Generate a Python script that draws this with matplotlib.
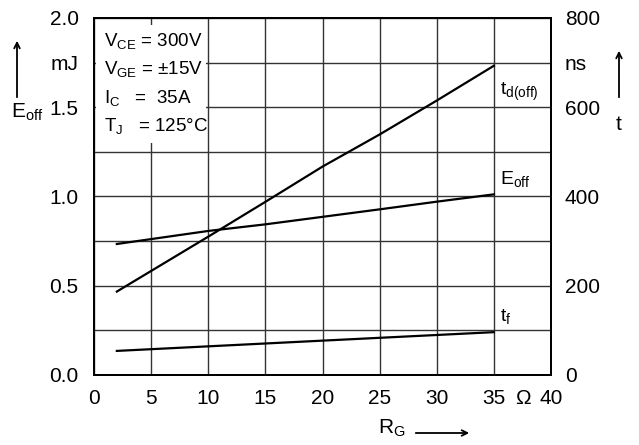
import numpy as np
import matplotlib.pyplot as plt

plt.rcParams["font.family"] = ["Liberation Sans", "DejaVu Sans"]
plt.rcParams["mathtext.default"] = "regular"

# gate resistance (Ohm)
rg = [2, 10, 15, 20, 25, 30, 35]
# turn-off energy (mJ)
e_off = [0.734, 0.807, 0.844, 0.886, 0.928, 0.971, 1.012]
# turn-off delay time (ns)
td_off = [187, 310, 388, 467, 539, 615, 693]
# fall time (ns)
rg_tf = [2, 20, 35]
t_f = [54, 77, 96]

x_ticks = [0, 5, 10, 15, 20, 25, 30, 35, 37.5, 40]
x_labels = ["0", "5", "10", "15", "20", "25", "30", "35", "Ω", "40"]
yl_ticks = [0.0, 0.5, 1.0, 1.5, 1.75, 2.0]
yl_labels = ["0.0", "0.5", "1.0", "1.5", "mJ", "2.0"]
yr_ticks = [0, 200, 400, 600, 700, 800]
yr_labels = ["0", "200", "400", "600", "ns", "800"]

fig = plt.figure(figsize=(6.39, 4.45), dpi=100)
ax = fig.add_axes([94 / 639, 70 / 445, 457 / 639, 357 / 445])
ax2 = ax.twinx()

ax.set_xlim(0, 40)
ax.set_ylim(0, 2.0)
ax2.set_ylim(0, 800)

ax.xaxis.remove_overlapping_locs = False
ax.yaxis.remove_overlapping_locs = False
ax.set_xticks(np.arange(0, 41, 5), minor=True)
ax.set_yticks(np.arange(0, 2.01, 0.25), minor=True)
ax.grid(which="minor", color="#333333", linewidth=1.0)
ax.set_axisbelow(True)

ax.set_xticks(x_ticks)
ax.set_xticklabels(x_labels)
ax.set_yticks(yl_ticks)
ax.set_yticklabels(yl_labels)
ax2.set_yticks(yr_ticks)
ax2.set_yticklabels(yr_labels)
ax.tick_params(which="both", length=0, labelsize=15, pad=11)
ax2.tick_params(which="both", length=0, labelsize=15, pad=10)
ax.tick_params(axis="x", pad=10)

for s in list(ax.spines.values()) + list(ax2.spines.values()):
    s.set_linewidth(1.4)

ax.plot(rg, e_off, color="black", linewidth=1.6, zorder=3)
ax2.plot(rg, td_off, color="black", linewidth=1.6, zorder=3)
ax2.plot(rg_tf, t_f, color="black", linewidth=1.6, zorder=3)

# white box behind conditions
ax.add_patch(plt.Rectangle((0.2, 1.3), 9.6, 0.66, facecolor="white",
                           edgecolor="none", zorder=2))
cond = ["V$_{CE}$ = 300V", "V$_{GE}$ = ±15V", "I$_{C}$   =  35A",
        "T$_{J}$   = 125°C"]
for i, c in enumerate(cond):
    ax.text(0.9, 1.87 - i * 0.158, c, fontsize=13.5, va="center",
            ha="left", zorder=4)

ax.text(35.5, 1.57, "t$_{d(off)}$", fontsize=14, zorder=4)
ax.text(35.5, 1.07, "E$_{off}$", fontsize=14, zorder=4)
ax.text(35.5, 0.3, "t$_{f}$", fontsize=14, zorder=4)

# axis names with arrows
fig.text(11 / 639, 1 - 112 / 445, "E$_{off}$", fontsize=15, va="center")
ax.annotate("", xy=(17 / 639, 1 - 38 / 445), xytext=(17 / 639, 1 - 100 / 445),
            xycoords="figure fraction", textcoords="figure fraction",
            arrowprops=dict(arrowstyle="->", color="black", lw=1.3))
fig.text(619 / 639, 1 - 125 / 445, "t", fontsize=15, ha="center", va="center")
ax.annotate("", xy=(619 / 639, 1 - 48 / 445), xytext=(619 / 639, 1 - 100 / 445),
            xycoords="figure fraction", textcoords="figure fraction",
            arrowprops=dict(arrowstyle="->", color="black", lw=1.3))
fig.text(378 / 639, 1 - 428 / 445, "R$_{G}$", fontsize=15, ha="left",
         va="center")
ax.annotate("", xy=(472 / 639, 1 - 433 / 445), xytext=(413 / 639, 1 - 433 / 445),
            xycoords="figure fraction", textcoords="figure fraction",
            arrowprops=dict(arrowstyle="->", color="black", lw=1.3))

fig.savefig("out.png", dpi=100)
